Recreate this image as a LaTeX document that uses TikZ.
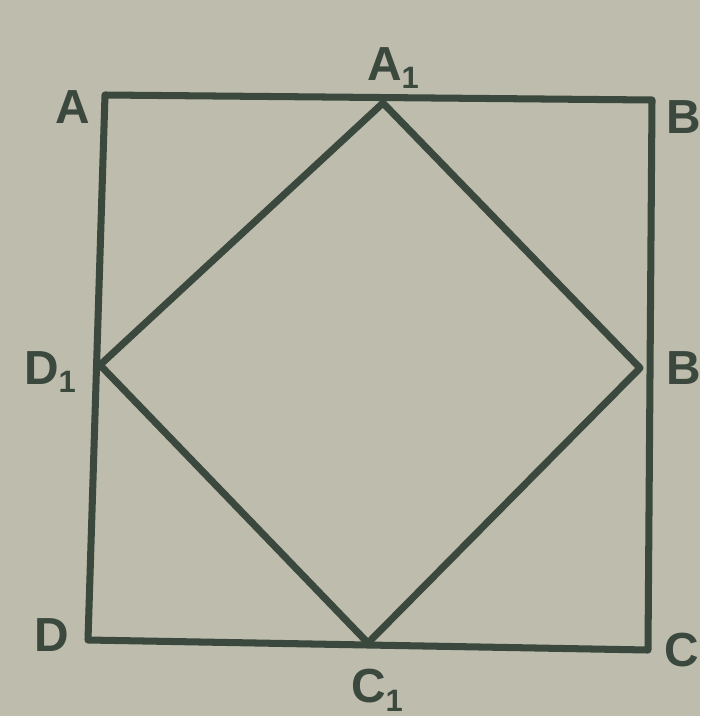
\documentclass[tikz,border=0pt]{standalone}
\usepackage{fontspec}
\setmainfont{Liberation Sans}
\newcommand{\lsub}[1]{\raisebox{-0.35ex}{\fontsize{22}{22}\selectfont #1}}
\definecolor{paper}{RGB}{190,188,172}
\definecolor{ink}{RGB}{58,72,62}
\begin{document}
\begin{tikzpicture}[x=0.025cm,y=-0.025cm,
  edge/.style={draw=ink,line width=5pt,line cap=round,line join=round},
  lbl/.style={text=ink,font=\fontsize{34}{34}\selectfont\bfseries,inner sep=0pt}]
\fill[paper] (0,0) rectangle (700,716);
\useasboundingbox (0,0) rectangle (700,716);
\coordinate (A) at (105,95);
\coordinate (B) at (652,100);
\coordinate (C) at (648,650);
\coordinate (D) at (88,640);
\coordinate (A1) at (383,103);
\coordinate (B1) at (640,368);
\coordinate (C1) at (368,643);
\coordinate (D1) at (100,365);
\draw[edge] (A) -- (B) -- (C) -- (D) -- cycle;
\draw[edge] (A1) -- (B1) -- (C1) -- (D1) -- cycle;
\node[lbl] (lA) at (73,107) {A};
\node[lbl] (lA1) at (393,68) {A\lsub{1}};
\node[lbl] (lB) at (684,117) {B};
\node[lbl] (lB1) at (684,368) {B};
\node[lbl] (lC) at (682,650) {C};
\node[lbl] (lC1) at (377,690) {C\lsub{1}};
\node[lbl] (lD) at (52,635) {D};
\node[lbl] (lD1) at (50,372) {D\lsub{1}};
\end{tikzpicture}
\end{document}
